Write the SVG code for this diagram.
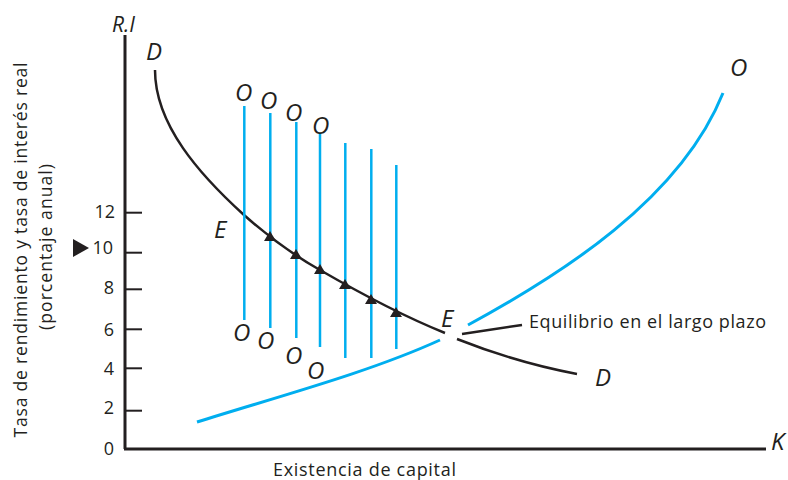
<svg xmlns="http://www.w3.org/2000/svg" width="788" height="480" viewBox="0 0 788 480">
<style>
.ax{stroke:#231f20;stroke-width:3;fill:none}
.tk{stroke:#231f20;stroke-width:2;fill:none}
.dc{stroke:#231f20;stroke-width:2.5;fill:none}
.bl{stroke:#00aeef;stroke-width:3;fill:none}
.vl{stroke:#00aeef;stroke-width:2.5;fill:none}
.t{font-family:"Open Sans","Liberation Sans",sans-serif;fill:#231f20}
.num{font-size:18px;text-anchor:end}
.lab{font-size:18px}
.it{font-family:"Open Sans","Liberation Sans",sans-serif;font-style:italic;font-size:24px;fill:#231f20}
.tri{fill:#231f20}
</style>
<rect width="788" height="480" fill="#ffffff"/>
<g id="axes">
<line class="ax" x1="125" y1="35" x2="125" y2="449"/>
<line class="ax" x1="124" y1="449" x2="766" y2="449"/>
<line class="tk" x1="125" y1="212.7" x2="142" y2="212.7"/>
<line class="tk" x1="125" y1="252.7" x2="142" y2="252.7"/>
<line class="tk" x1="125" y1="289.3" x2="142" y2="289.3"/>
<line class="tk" x1="125" y1="329.3" x2="142" y2="329.3"/>
<line class="tk" x1="125" y1="368.3" x2="142" y2="368.3"/>
<line class="tk" x1="125" y1="410.7" x2="142" y2="410.7"/>
</g>
<g id="tick-labels">
<text class="t num" x="115" y="218">12</text>
<text class="t num" x="113" y="254">10</text>
<text class="t num" x="114" y="293.5">8</text>
<text class="t num" x="114" y="335.5">6</text>
<text class="t num" x="114" y="375">4</text>
<text class="t num" x="114" y="413.5">2</text>
<text class="t num" x="114" y="455">0</text>
<polygon class="tri" points="73,239 89,248 73,257"/>
</g>
<g id="axis-titles">
<text class="t" style="font-size:17.5px" transform="translate(27,250) rotate(-90)" text-anchor="middle" textLength="375">Tasa de rendimiento y tasa de interés real</text>
<text class="t" style="font-size:17.5px" transform="translate(52,247) rotate(-90)" text-anchor="middle" textLength="166">(porcentaje anual)</text>
<text class="t lab" x="273" y="476" textLength="183">Existencia de capital</text>
<text class="it" x="112" y="32" style="font-size:21px">R.I</text>
<text class="it" x="771" y="450">K</text>
</g>
<g id="demand-curve">
<path class="dc" d="M155,70 C155,125 200,175 244,215 C270,238 295,256 320,270 C358,292 403,316 445,333"/>
<path class="dc" d="M457,339 C500,356 545,368 577,374"/>
<text class="it" x="146" y="60">D</text>
<text class="it" x="595" y="386">D</text>
</g>
<g id="supply-curve">
<path class="bl" d="M197,422 C280,396 370,372 440,340"/>
<path class="bl" d="M468,325 C560,275 680,200 723,93"/>
<text class="it" x="730" y="76">O</text>
</g>
<g id="short-run-supply">
<line class="vl" x1="244.3" y1="106" x2="244.3" y2="320"/>
<line class="vl" x1="270.3" y1="113" x2="270.3" y2="328"/>
<line class="vl" x1="296.3" y1="122" x2="296.3" y2="338"/>
<line class="vl" x1="320" y1="133" x2="320" y2="347"/>
<line class="vl" x1="345.3" y1="143" x2="345.3" y2="358"/>
<line class="vl" x1="371.3" y1="149" x2="371.3" y2="358"/>
<line class="vl" x1="396.3" y1="165" x2="396.3" y2="349"/>
<text class="it" x="235" y="101">O</text>
<text class="it" x="260" y="109">O</text>
<text class="it" x="285" y="121">O</text>
<text class="it" x="312" y="134">O</text>
<text class="it" x="233" y="341">O</text>
<text class="it" x="257" y="349">O</text>
<text class="it" x="285" y="364">O</text>
<text class="it" x="307" y="379">O</text>
</g>
<g id="arrows">
<polygon class="tri" points="270,231 276,241 264,241"/>
<polygon class="tri" points="296,249 302,259 290,259"/>
<polygon class="tri" points="320,264 326,274 314,274"/>
<polygon class="tri" points="345,279 351,289 339,289"/>
<polygon class="tri" points="371,294 377,304 365,304"/>
<polygon class="tri" points="396,307 402,317 390,317"/>
</g>
<g id="equilibrium">
<text class="it" x="214" y="238">E</text>
<text class="it" x="441" y="327">E</text>
<line class="dc" x1="462" y1="334" x2="522" y2="325"/>
<text class="t lab" x="529" y="328" textLength="237">Equilibrio en el largo plazo</text>
</g>
</svg>
